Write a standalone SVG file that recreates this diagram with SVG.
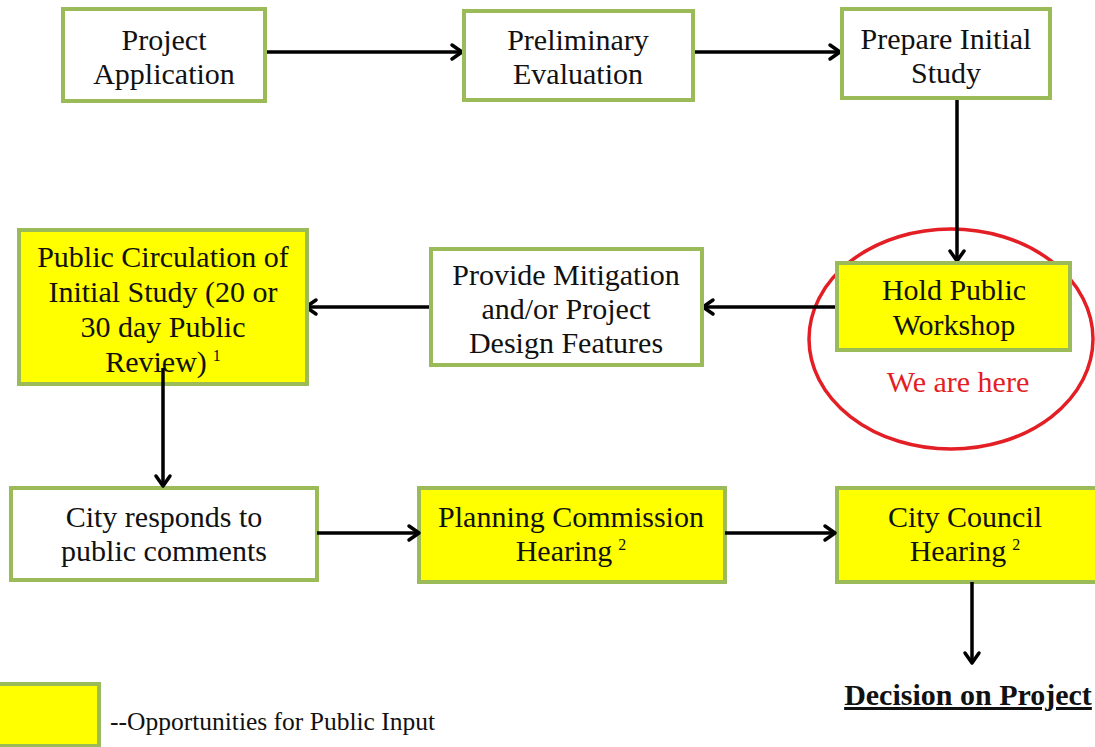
<svg xmlns="http://www.w3.org/2000/svg" width="1095" height="747" viewBox="0 0 1095 747">
<style>
.box{stroke:#9bbb59;stroke-width:4;}
.w{fill:#ffffff;}
.y{fill:#ffff00;}
.t{font-family:"Liberation Serif","Times New Roman",serif;font-size:30px;fill:#111;text-anchor:middle;}
.sup{font-size:16px;}
.c{stroke:#000;stroke-width:3.5;fill:none;}
</style>
<defs>
<marker id="ah" markerUnits="userSpaceOnUse" markerWidth="16" markerHeight="20" refX="13" refY="10" orient="auto" viewBox="0 0 16 20">
<path d="M3,3 L13,10 L3,17" fill="none" stroke="#000" stroke-width="3.5" stroke-linecap="round" stroke-linejoin="round"/>
</marker>
</defs>
<rect width="1095" height="747" fill="#ffffff"/>
<ellipse cx="951" cy="339" rx="142" ry="110" fill="none" stroke="#e31e24" stroke-width="3.5"/>
<g id="connectors">
<line class="c" x1="265" y1="52" x2="462" y2="52" marker-end="url(#ah)"/>
<line class="c" x1="693" y1="52" x2="840" y2="52" marker-end="url(#ah)"/>
<line class="c" x1="957" y1="98" x2="957" y2="261" marker-end="url(#ah)"/>
<line class="c" x1="836" y1="307" x2="703" y2="307" marker-end="url(#ah)"/>
<line class="c" x1="430" y1="307" x2="306" y2="307" marker-end="url(#ah)"/>
</g>
<g id="n1"><rect class="box w" x="63" y="9" width="202" height="92"/>
<text class="t" x="164" y="50">Project</text><text class="t" x="164" y="84">Application</text></g>
<g id="n2"><rect class="box w" x="464" y="11" width="229" height="89"/>
<text class="t" x="578" y="50">Preliminary</text><text class="t" x="578" y="84">Evaluation</text></g>
<g id="n3"><rect class="box w" x="842" y="9" width="208" height="89"/>
<text class="t" x="946" y="49">Prepare Initial</text><text class="t" x="946" y="83">Study</text></g>
<g id="n4"><rect class="box y" x="837" y="263" width="233" height="87"/>
<text class="t" x="954" y="300">Hold Public</text><text class="t" x="954" y="335">Workshop</text></g>
<g id="here"><text class="t" x="958" y="392" style="fill:#e31e24">We are here</text></g>
<g id="n5"><rect class="box w" x="431" y="249" width="271" height="116"/>
<text class="t" x="566" y="285">Provide Mitigation</text><text class="t" x="566" y="319">and/or Project</text><text class="t" x="566" y="353">Design Features</text></g>
<g id="n6"><rect class="box y" x="19" y="230" width="288" height="154"/>
<text class="t" x="163" y="267">Public Circulation of</text><text class="t" x="163" y="302">Initial Study (20 or</text><text class="t" x="163" y="337">30 day Public</text><text class="t" x="163" y="372">Review)<tspan class="sup" dx="6" dy="-11">1</tspan></text></g>
<g id="n7"><rect class="box w" x="11" y="488" width="306" height="92"/>
<text class="t" x="164" y="527">City responds to</text><text class="t" x="164" y="561">public comments</text></g>
<g id="n8"><rect class="box y" x="419" y="488" width="306" height="94"/>
<text class="t" x="571" y="527">Planning Commission</text><text class="t" x="571" y="561">Hearing<tspan class="sup" dx="6" dy="-11">2</tspan></text></g>
<g id="n9"><rect class="box y" x="837" y="488" width="262" height="94"/>
<text class="t" x="965" y="527">City Council</text><text class="t" x="965" y="561">Hearing<tspan class="sup" dx="6" dy="-11">2</tspan></text></g>
<g id="connectors2">
<line class="c" x1="163" y1="368" x2="163" y2="486" marker-end="url(#ah)"/>
<line class="c" x1="317" y1="533" x2="419" y2="533" marker-end="url(#ah)"/>
<line class="c" x1="725" y1="533" x2="835" y2="533" marker-end="url(#ah)"/>
<line class="c" x1="972" y1="582" x2="972" y2="663" marker-end="url(#ah)"/>
</g>
<g id="decision"><text class="t" x="968" y="705" style="font-weight:bold;text-decoration:underline">Decision on Project</text></g>
<g id="legend"><rect class="box y" x="-4" y="684" width="103" height="62"/>
<text x="110" y="730" style="font-family:'Liberation Serif','Times New Roman',serif;font-size:25.5px;fill:#111">--Opportunities for Public Input</text></g>
</svg>
